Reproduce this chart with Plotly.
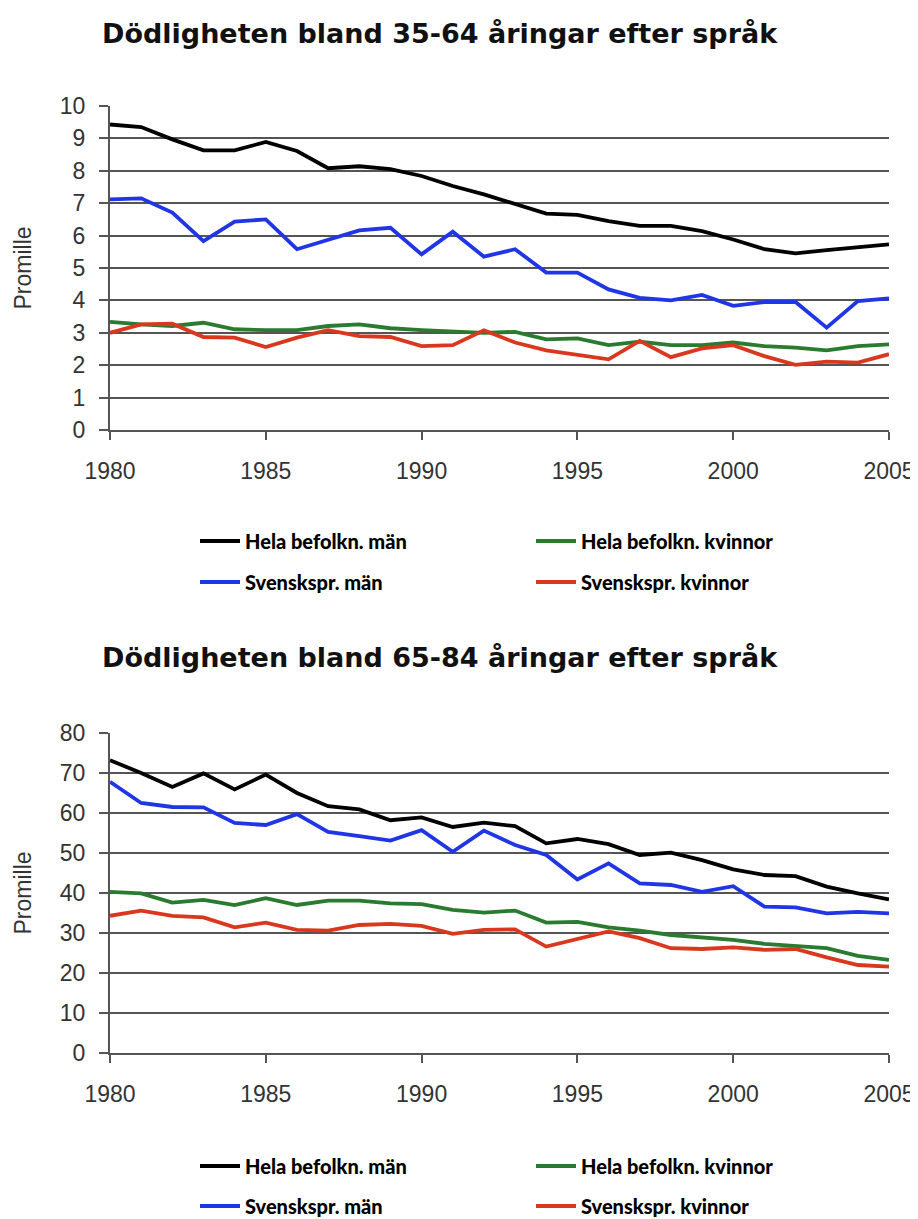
import plotly.graph_objects as go

# --- data -------------------------------------------------------------
years = list(range(1980, 2006))

# 35-64 years, per mille
hela_man_35 = [9.43, 9.35, 8.97, 8.63, 8.63, 8.89, 8.61, 8.08, 8.14, 8.05, 7.84, 7.53, 7.27,
               6.97, 6.68, 6.64, 6.45, 6.30, 6.30, 6.14, 5.88, 5.58, 5.45, 5.55, 5.63, 5.73]
hela_kv_35 = [3.34, 3.26, 3.21, 3.31, 3.11, 3.08, 3.08, 3.21, 3.26, 3.14, 3.08, 3.03, 3.00,
              3.03, 2.80, 2.83, 2.62, 2.73, 2.62, 2.62, 2.70, 2.59, 2.54, 2.46, 2.59, 2.64]
sv_man_35 = [7.12, 7.15, 6.71, 5.83, 6.43, 6.50, 5.58, 5.88, 6.16, 6.24, 5.42, 6.12, 5.35,
             5.58, 4.86, 4.86, 4.34, 4.08, 4.00, 4.17, 3.83, 3.95, 3.95, 3.16, 3.98, 4.06]
sv_kv_35 = [3.00, 3.26, 3.28, 2.87, 2.85, 2.56, 2.85, 3.08, 2.90, 2.87, 2.59, 2.62, 3.08,
            2.70, 2.46, 2.31, 2.18, 2.75, 2.25, 2.52, 2.62, 2.28, 2.01, 2.11, 2.08, 2.34]

# 65-84 years, per mille
hela_man_65 = [73.2, 70.0, 66.5, 69.9, 65.9, 69.6, 65.0, 61.7, 60.9, 58.2, 58.9, 56.5, 57.6,
               56.7, 52.4, 53.5, 52.2, 49.5, 50.1, 48.2, 45.9, 44.5, 44.2, 41.6, 39.9, 38.4]
hela_kv_65 = [40.3, 39.9, 37.6, 38.3, 37.0, 38.7, 37.0, 38.1, 38.1, 37.4, 37.2, 35.8, 35.1,
              35.6, 32.6, 32.8, 31.4, 30.6, 29.5, 28.9, 28.3, 27.3, 26.8, 26.2, 24.3, 23.3]
sv_man_65 = [67.8, 62.5, 61.5, 61.4, 57.5, 57.0, 59.7, 55.3, 54.2, 53.1, 55.7, 50.3, 55.6,
             52.0, 49.5, 43.4, 47.4, 42.4, 42.0, 40.3, 41.7, 36.6, 36.4, 34.9, 35.3, 34.9]
sv_kv_65 = [34.3, 35.6, 34.3, 33.9, 31.4, 32.6, 30.8, 30.6, 32.0, 32.3, 31.8, 29.8, 30.8,
            30.9, 26.6, 28.4, 30.4, 28.7, 26.2, 26.0, 26.4, 25.8, 26.0, 23.9, 22.0, 21.6]

names = ['Hela befolkn. män', 'Hela befolkn. kvinnor', 'Svenskspr. män', 'Svenskspr. kvinnor']
titles = ['Dödligheten bland 35-64 åringar efter språk',
          'Dödligheten bland 65-84 åringar efter språk']
x_ticks = [1980, 1985, 1990, 1995, 2000, 2005]
y_ticks_35 = list(range(0, 11))
y_ticks_65 = list(range(0, 81, 10))

# --- layout helpers ---------------------------------------------------
# page pixels of the 918x1219 window; the html body adds an 8px margin
OFF = 8
W, H = 918 - OFF, 1219 - OFF
L, R = 110, 889


def py(p):
    return 1 - (p - OFF) / H


def px(p):
    return (p - L) / (R - L)


def cx(p):
    return (p - OFF) / W


colors = ['#000000', '#2a7a30', '#1f35e6', '#d9381e']
grid = '#555555'
tick_font = dict(family='Liberation Sans, Arial, sans-serif', size=23, color='#333333')
leg_font = dict(family='Lato, sans-serif', size=20, color='#000000', weight=900)
title_font = dict(family='DejaVu Sans, sans-serif', size=27, color='#111111', weight='bold')

fig = go.Figure()

series_top = [hela_man_35, hela_kv_35, sv_man_35, sv_kv_35]
series_bot = [hela_man_65, hela_kv_65, sv_man_65, sv_kv_65]
legends_top = ['legend', 'legend', 'legend2', 'legend2']
legends_bot = ['legend3', 'legend3', 'legend4', 'legend4']

for i in range(4):
    fig.add_trace(go.Scatter(x=years, y=series_top[i], mode='lines', name=names[i],
                             line=dict(color=colors[i], width=3.8),
                             xaxis='x', yaxis='y', legend=legends_top[i]))
for i in range(4):
    fig.add_trace(go.Scatter(x=years, y=series_bot[i], mode='lines', name=names[i],
                             line=dict(color=colors[i], width=3.8),
                             xaxis='x2', yaxis='y2', legend=legends_bot[i]))


def xaxis(anchor):
    return dict(anchor=anchor, domain=[0, 1], range=[1980, 2005], tickvals=x_ticks,
                ticks='outside', ticklen=8, tickwidth=2, tickcolor=grid,
                showline=True, linecolor=grid, linewidth=2, showgrid=False,
                zeroline=False, tickfont=tick_font, ticklabelstandoff=11)


def yaxis(anchor, dom, rng, tv):
    return dict(anchor=anchor, domain=dom, range=rng, tickvals=tv,
                ticks='outside', ticklen=9, tickwidth=2, tickcolor=grid,
                showline=True, linecolor=grid, linewidth=2,
                showgrid=True, gridcolor=grid, gridwidth=2, zeroline=False,
                tickfont=tick_font, ticklabelstandoff=9,
                title=dict(text='Promille', font=tick_font, standoff=22))


def legend(x, y):
    return dict(orientation='h', xref='container', yref='container',
                x=x, y=y, xanchor='left', yanchor='middle',
                entrywidth=281, entrywidthmode='pixels', font=leg_font,
                bgcolor='rgba(0,0,0,0)', itemwidth=40, tracegroupgap=0)


fig.update_layout(
    width=W, height=H,
    margin=dict(l=L - OFF, r=918 - R, t=0, b=0, autoexpand=False),
    paper_bgcolor='white', plot_bgcolor='white',
    xaxis=xaxis('y'),
    yaxis=yaxis('x', [py(430), py(106)], [0, 10], y_ticks_35),
    xaxis2=xaxis('y2'),
    yaxis2=yaxis('x2', [py(1053), py(733)], [0, 80], y_ticks_65),
    legend=legend(cx(195), py(541)),
    legend2=legend(cx(195), py(582)),
    legend3=legend(cx(195), py(1166)),
    legend4=legend(cx(195), py(1206)),
    annotations=[
        dict(text=titles[0], xref='paper', yref='paper', x=px(440), y=py(33),
             xanchor='center', yanchor='middle', showarrow=False, font=title_font),
        dict(text=titles[1], xref='paper', yref='paper', x=px(440), y=py(657),
             xanchor='center', yanchor='middle', showarrow=False, font=title_font),
    ],
)

fig.write_html('out.html')
